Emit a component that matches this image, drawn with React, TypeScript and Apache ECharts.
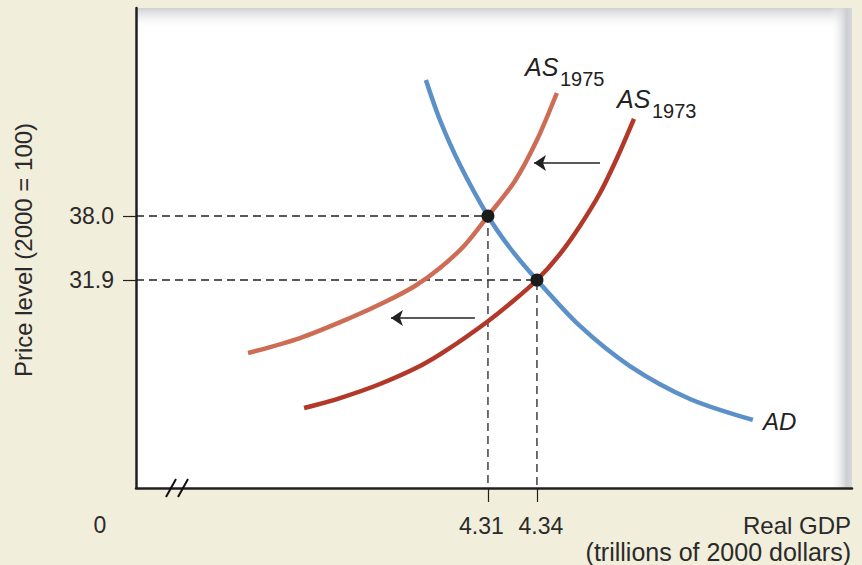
import React, { useEffect, useRef } from "react";
import * as echarts from "echarts";

// Axis ranges (data space)
const X_MIN = 4.0945;
const X_MAX = 4.5329;
const Y_MIN = 12.075;
const Y_MAX = 57.825;

// Tick labels
const xTicks = [4.31, 4.34];
const yTicks = [31.9, 38.0];

// Aggregate demand curve
const adX = [4.272, 4.2806, 4.2929, 4.31, 4.3235, 4.34, 4.3663, 4.3969, 4.4337, 4.4722];
const adY = [50.96, 47.15, 42.86, 38.0, 34.95, 31.9, 27.52, 23.7, 20.56, 18.56];

// Aggregate supply 1975
const as75X = [4.1631, 4.1949, 4.2255, 4.2469, 4.2653, 4.2806, 4.2959, 4.31, 4.3265, 4.34, 4.3522];
const as75Y = [24.94, 26.37, 28.28, 29.8, 31.33, 33.04, 35.24, 38.0, 41.34, 45.24, 49.72];

// Aggregate supply 1973
const as73X = [4.1974, 4.2194, 4.2439, 4.2684, 4.2849, 4.3094, 4.3247, 4.34, 4.3541, 4.3663, 4.3786, 4.3896, 4.3994];
const as73Y = [19.7, 20.65, 21.99, 23.7, 25.23, 27.9, 29.8, 31.9, 34.38, 37.05, 40.19, 43.72, 47.25];

// Equilibria
const eqX = [4.31, 4.34];
const eqY = [38.0, 31.9];

// Shift arrows [x from, x to, y]
const arrowFromX = [4.3786, 4.302];
const arrowToX = [4.3382, 4.2506];
const arrowY = [43.05, 28.28];

const FONT = '"Liberation Sans", Arial, sans-serif';
const TXT = "#2a2a2a";

const zip = (xs: number[], ys: number[]) => xs.map((x, i) => [x, ys[i]]);

const txt = (x: number, y: number, text: string, size: number, align: string, extra: any = {}) => ({
  type: "text",
  x,
  y,
  ...extra,
  style: {
    text,
    fontSize: size,
    fontFamily: FONT,
    fontStyle: extra.italic ? "italic" : "normal",
    fill: extra.fill || TXT,
    align,
    verticalAlign: "middle",
    textAlign: align,
    textVerticalAlign: "middle",
  },
});

export default function App() {
  const ref = useRef<HTMLDivElement>(null);
  useEffect(() => {
    document.body.style.margin = "0";
    const chart = echarts.init(ref.current!, null, { renderer: "svg" });
    const curve = (name: string, data: number[][], color: string) => ({
      name,
      type: "line",
      data,
      smooth: 0.3,
      showSymbol: false,
      symbol: "none",
      clip: false,
      lineStyle: { color, width: 4.5, cap: "butt" },
      z: 3,
    });
    const dashed = (x: number, y: number) => ({
      type: "line",
      data: [
        [X_MIN, y],
        [x, y],
        [x, Y_MIN],
      ],
      showSymbol: false,
      symbol: "none",
      lineStyle: { color: "#222", width: 1.3, type: [8, 5] },
      z: 2,
    });
    const labelRich = {
      l: { fontFamily: FONT, fontSize: 23, color: TXT, padding: [0, 13, 0, 0] },
      r: { fontFamily: FONT, fontSize: 23, color: TXT, padding: [0, 0, 0, 8] },
    };
    const option: any = {
      animation: false,
      backgroundColor: "#f2eedc",
      grid: { left: 136, right: 10, top: 8, bottom: 77, containLabel: false, outerBoundsMode: "none" },
      xAxis: {
        type: "value",
        min: X_MIN,
        max: X_MAX,
        splitLine: { show: false },
        axisLine: { onZero: false, lineStyle: { color: "#231f20", width: 2.5 } },
        axisTick: { show: true, customValues: xTicks, length: 14, lineStyle: { color: "#231f20", width: 1.2 } },
        axisLabel: {
          customValues: xTicks,
          formatter: (v: number) => (v < 4.325 ? `{l|${v.toFixed(2)}}` : `{r|${v.toFixed(2)}}`),
          rich: labelRich,
          fontFamily: FONT,
          fontSize: 23,
          color: TXT,
          margin: 26,
        },
      },
      yAxis: {
        type: "value",
        min: Y_MIN,
        max: Y_MAX,
        splitLine: { show: false },
        axisLine: { onZero: false, lineStyle: { color: "#231f20", width: 2.5 } },
        axisTick: { show: true, customValues: yTicks, length: 13, lineStyle: { color: "#231f20", width: 1.2 } },
        axisLabel: {
          customValues: yTicks,
          formatter: (v: number) => v.toFixed(1),
          fontFamily: FONT,
          fontSize: 23,
          color: TXT,
          margin: 22,
        },
      },
      graphic: {
        elements: [
          { type: "rect", z: -10, shape: { x: 136, y: 8, width: 716, height: 480 }, style: { fill: "#ffffff" } },
          {
            type: "rect",
            z: -9,
            shape: { x: 136, y: 8, width: 716, height: 22 },
            style: {
              fill: new echarts.graphic.LinearGradient(0, 0, 0, 1, [
                { offset: 0, color: "#cfd0d3" },
                { offset: 1, color: "rgba(255,255,255,0)" },
              ]),
            },
          },
          {
            type: "rect",
            z: -9,
            shape: { x: 830, y: 8, width: 22, height: 480 },
            style: {
              fill: new echarts.graphic.LinearGradient(0, 0, 1, 0, [
                { offset: 0, color: "rgba(255,255,255,0)" },
                { offset: 0.75, color: "#cdced1" },
                { offset: 1, color: "#d6d7da" },
              ]),
            },
          },
          // axis break marks
          { type: "line", z: 10, shape: { x1: 166, y1: 497, x2: 176, y2: 479 }, style: { stroke: "#111", lineWidth: 2 } },
          { type: "line", z: 10, shape: { x1: 178, y1: 497, x2: 188, y2: 479 }, style: { stroke: "#111", lineWidth: 2 } },
          txt(100, 525, "0", 23, "center"),
          txt(23, 250, "Price level (2000 = 100)", 24, "center", { rotation: Math.PI / 2 }),
          txt(851, 525, "Real GDP", 24, "right"),
          txt(851, 552, "(trillions of 2000 dollars)", 25, "right"),
          txt(525, 67, "AS", 25, "left", { italic: true, fill: "#222" }),
          txt(560, 79, "1975", 20, "left", { fill: "#222" }),
          txt(617, 99, "AS", 25, "left", { italic: true, fill: "#222" }),
          txt(652, 111, "1973", 20, "left", { fill: "#222" }),
          txt(763, 421, "AD", 24, "left", { italic: true, fill: "#222" }),
        ],
      },
      series: [
        dashed(eqX[0], eqY[0]),
        dashed(eqX[1], eqY[1]),
        curve("AS1975", zip(as75X, as75Y), "#cd6d55"),
        curve("AS1973", zip(as73X, as73Y), "#b2392a"),
        curve("AD", zip(adX, adY), "#5b90c8"),
        {
          type: "lines",
          coordinateSystem: "cartesian2d",
          symbol: ["none", "arrow"],
          symbolSize: [0, 12],
          lineStyle: { color: "#222", width: 1.5, opacity: 1 },
          data: arrowY.map((y, i) => ({ coords: [[arrowFromX[i], y], [arrowToX[i], y]] })),
          z: 4,
        },
        {
          type: "scatter",
          data: zip(eqX, eqY),
          symbolSize: 13,
          itemStyle: { color: "#1b1b1b", opacity: 1 },
          z: 5,
        },
      ],
    };
    chart.setOption(option);
    return () => chart.dispose();
  }, []);
  return <div ref={ref} style={{ position: "absolute", left: 0, top: 0, width: 862, height: 565 }} />;
}
